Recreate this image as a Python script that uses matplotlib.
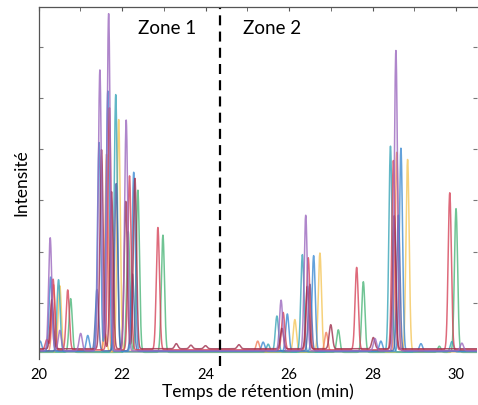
import numpy as np
import matplotlib
matplotlib.use("Agg")
import matplotlib.pyplot as plt

plt.rcParams['font.family'] = ['Lato', 'DejaVu Sans']

# ---- data: peaks (retention time in min, intensity in arbitrary units) per trace ----
purple_rt = [20.28, 20.51, 21.01, 21.47, 21.68, 22.10, 25.81, 26.40, 28.06, 28.56, 30.14]
purple_h  = [2.21, 0.40, 0.34, 5.49, 6.59, 4.51, 0.99, 2.65, 0.24, 5.87, 0.15]

blue_rt = [20.04, 20.29, 21.18, 21.45, 21.66, 22.28, 25.38, 25.96, 26.59, 28.20, 28.68, 29.16]
blue_h  = [0.20, 1.45, 0.31, 4.08, 5.09, 3.50, 0.18, 0.73, 1.87, 0.20, 3.97, 0.15]

teal_rt = [20.48, 21.85, 25.50, 25.71, 26.32, 28.43, 29.90]
teal_h  = [1.41, 5.03, 0.15, 0.70, 1.90, 4.02, 0.20]

red_rt = [20.20, 20.35, 20.70, 21.70, 22.18, 22.86, 25.86, 26.46, 27.62, 28.50, 29.85]
red_h  = [0.20, 1.38, 1.17, 4.73, 3.40, 2.39, 0.73, 1.80, 1.61, 3.70, 3.07]

darkred_rt = [20.32, 21.51, 21.75, 22.09, 22.31, 23.30, 23.65, 24.00, 24.80, 25.83, 26.44, 27.00, 28.02, 28.52]
darkred_h  = [0.96, 3.89, 3.07, 2.88, 3.33, 0.10, 0.07, 0.06, 0.08, 0.40, 1.22, 0.47, 0.22, 2.60]

orange_rt = [20.36, 21.63, 25.25, 26.89, 28.58]
orange_h  = [1.30, 3.85, 0.20, 0.37, 3.89]

yellow_rt = [20.51, 21.60, 21.92, 26.14, 26.74, 28.84]
yellow_h  = [1.29, 0.35, 4.54, 0.63, 1.93, 3.76]

green_rt = [20.77, 22.15, 22.38, 22.98, 27.18, 27.78, 29.60, 30.00]
green_h  = [1.05, 2.36, 3.17, 2.29, 0.44, 1.38, 0.12, 2.81]

navy_rt = [21.40, 21.86, 22.25, 26.50, 28.62]
navy_h  = [1.20, 3.27, 1.50, 1.30, 2.65]

trace_colors = {
    'purple': '#9B68BE', 'blue': '#3D8BD3', 'teal': '#3AA5B8', 'red': '#D6455A',
    'darkred': '#9E2E4C', 'orange': '#F2805C', 'yellow': '#F4C65A', 'green': '#4CB679',
    'navy': '#4A5FA8',
}
traces = [
    ('green', green_rt, green_h), ('yellow', yellow_rt, yellow_h), ('orange', orange_rt, orange_h),
    ('teal', teal_rt, teal_h), ('navy', navy_rt, navy_h), ('blue', blue_rt, blue_h),
    ('red', red_rt, red_h), ('darkred', darkred_rt, darkred_h), ('purple', purple_rt, purple_h),
]
baseline = {'purple': 0.06, 'blue': 0.05, 'teal': 0.04, 'red': 0.08, 'darkred': 0.10,
            'orange': 0.05, 'yellow': 0.04, 'green': 0.03, 'navy': 0.06}

x_ticks = [20, 22, 24, 26, 28, 30]
zone_split = 24.35

# ---- figure ----
W, H = 478, 405
fig = plt.figure(figsize=(W / 100, H / 100), dpi=100)
ax = fig.add_axes([38.5 / W, 1 - 359 / H, (476.9 - 38.5) / W, (359 - 7) / H])

t = np.linspace(20, 30.5, 4000)
sigma = 0.038
for name, rts, hs in traces:
    y = np.full_like(t, baseline[name])
    for rt, h in zip(rts, hs):
        y += h * np.exp(-0.5 * ((t - rt) / sigma) ** 2)
    ax.plot(t, y, color=trace_colors[name], lw=1.1, alpha=0.8)

ax.set_xlim(20, 30.5)
ax.set_ylim(-0.1, 6.78)

ax.axvline(zone_split, ymin=-0.02, ymax=1, color='black', lw=1.6,
           dashes=(4.5, 2.8), clip_on=False)

ax.text(23.08, 6.35, 'Zone 1', fontsize=13.5, ha='center', va='center')
ax.text(24.9, 6.35, 'Zone 2', fontsize=13.5, ha='left', va='center')

for s in ['bottom', 'right']:
    ax.spines[s].set_visible(False)
for s in ['top', 'left']:
    ax.spines[s].set_color('#555555')
    ax.spines[s].set_linewidth(0.9)

ax.set_xticks(x_ticks)
ax.set_xticklabels([str(v) for v in x_ticks], fontsize=10.5)
ax.set_xticks(np.arange(20, 31, 1), minor=True)
ax.tick_params(axis='x', which='both', top=True, bottom=False, direction='in',
               length=3, color='#555555', pad=6.5)
ax.set_yticks([1, 2, 3, 4, 5, 6])
ax.set_yticklabels([])
ax.tick_params(axis='y', direction='in', length=3, right=True, color='#777777')

ax.set_xlabel('Temps de rétention (min)', fontsize=12.5, labelpad=1)
ax.set_ylabel('Intensité', fontsize=12.5, labelpad=3)

fig.savefig('out.png', dpi=100)
